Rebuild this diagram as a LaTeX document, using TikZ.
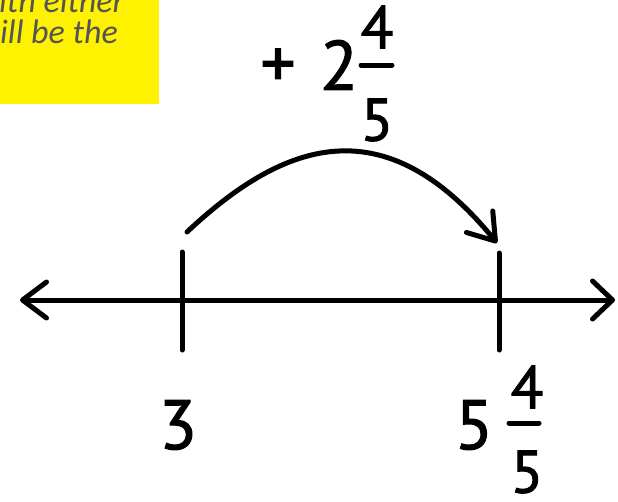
\documentclass[tikz,border=0pt]{standalone}
\usepackage{fontspec}
\setmainfont{PT Sans}
\newfontfamily\digitfont[FakeBold=1.5]{PT Sans}
\newfontfamily\notefont{Carlito}
\usetikzlibrary{arrows.meta}
\begin{document}
\begin{tikzpicture}[x=1pt,y=-1pt,
  stroke/.style={line width=5pt,line cap=round,black},
  big/.style={inner sep=0pt,font=\digitfont\fontsize{70}{70}\selectfont},
  small/.style={inner sep=0pt,font=\digitfont\fontsize{60}{60}\selectfont},
  note/.style={inner sep=0pt,text=black!67,font=\notefont\itshape\fontsize{34}{34}\selectfont}]
\useasboundingbox (0,0) rectangle (618,501);
\fill[white] (0,0) rectangle (618,501);
% yellow note box
\begin{scope}
\clip (0,0) rectangle (159,104);
\fill[yellow] (0,0) rectangle (159,104);
\node[note,anchor=base west] (n1) at (-1,12) {ith either};
\node[note,anchor=base west] (n2) at (0,43) {ill be the};
\end{scope}
% number line
\coordinate (L) at (20,300);
\coordinate (R) at (615,300);
\draw[stroke,{Straight Barb[length=24pt,width=36pt,line width=5pt,round]}-{Straight Barb[length=20pt,width=38pt,line width=5pt,round]}] (L) -- (R);
% ticks
\coordinate (t1a) at (182,252); \coordinate (t1b) at (182,350);
\coordinate (t2a) at (499,253); \coordinate (t2b) at (499,350);
\draw[stroke] (t1a) -- (t1b);
\draw[stroke] (t2a) -- (t2b);
% jump arc
\coordinate (as) at (187,232);
\coordinate (ae) at (497,243);
\draw[stroke,-{Straight Barb[length=25pt,width=34pt,line width=5pt,round]}] (as) .. controls (285,140) and (385,106) .. (ae);
% jump label
\node[big] (plus) at (278,68) {+};
\node[big] (two) at (339,65) {2};
\node[small] (jn) at (377,27) {4};
\coordinate (jb1) at (361,65); \coordinate (jb2) at (392,65);
\draw[stroke] (jb1) -- (jb2);
\node[small] (jd) at (377,120) {5};
% tick labels
\node[big] (three) at (178,425) {3};
\node[big] (five) at (474,425) {5};
\node[small] (fn) at (527,387) {4};
\coordinate (fb1) at (509,423); \coordinate (fb2) at (539,423);
\draw[stroke] (fb1) -- (fb2);
\node[small] (fd) at (527,472) {5};
\end{tikzpicture}
\end{document}
